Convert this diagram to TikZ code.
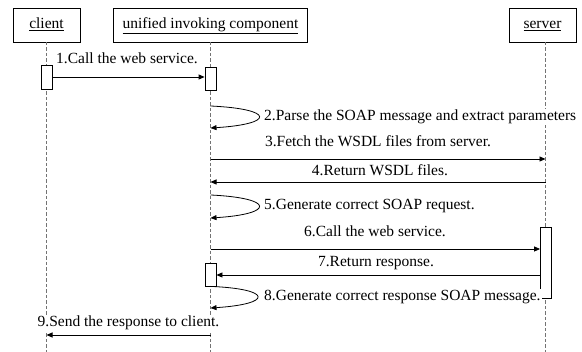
\documentclass[tikz,border=0pt]{standalone}
\usepackage{fontspec}
\setmainfont{Liberation Serif}
\usetikzlibrary{arrows.meta}
\begin{document}
\begin{tikzpicture}[x=1pt,y=-1pt,
  txt/.style={font=\fontsize{15.5}{18}\selectfont, text height=11pt, text depth=3.5pt},
  actor/.style={txt, draw, line width=0.8pt, minimum height=34pt, inner sep=0pt},
  life/.style={draw=black!55, line width=0.8pt, dash pattern=on 3.5pt off 2pt},
  act/.style={draw, fill=white, line width=0.8pt, minimum width=11pt, inner sep=0pt},
  msg/.style={line width=0.8pt, -{Triangle[length=6pt,width=5pt]}},
  lbl/.style={txt, fill=white, inner sep=1pt},
]
\useasboundingbox (0,0) rectangle (582,352);

% participants
\node[actor, minimum width=67pt]  (client)  at (46.5,25)  {\underline{client}};
\node[actor, minimum width=194pt] (unified) at (210.5,25) {\underline{unified invoking component}};
\node[actor, minimum width=67pt]  (server)  at (542.5,25) {\underline{server}};

% lifelines
\coordinate (cTop) at (46.5,42);   \coordinate (cBot) at (46.5,352);
\coordinate (uTop) at (210.5,42);  \coordinate (uBot) at (210.5,352);
\coordinate (sTop) at (545.5,42);  \coordinate (sBot) at (545.5,352);
\draw[life] (cTop) -- (cBot);
\draw[life] (uTop) -- (uBot);
\draw[life] (sTop) -- (sBot);

% activation bars
\node[act, minimum height=24pt] (a1) at (46.5,77)  {};
\node[act, minimum height=23pt] (a2) at (210.5,78.5) {};
\node[act, minimum height=71pt] (a3) at (546,262.5) {};
\node[act, minimum height=23pt] (a4) at (210.5,274.5) {};

% message end points on the lifelines
\coordinate (m2s) at (210.5,106); \coordinate (m2e) at (210.5,128);
\coordinate (m3s) at (210.5,159); \coordinate (m3e) at (545.5,159);
\coordinate (m4s) at (545.5,182); \coordinate (m4e) at (210.5,182);
\coordinate (m5s) at (210.5,195); \coordinate (m5e) at (210.5,218);
\coordinate (m6s) at (210.5,249);
\coordinate (m8e) at (210.5,308);
\coordinate (m9s) at (210.5,335); \coordinate (m9e) at (46.5,335);

% 1
\draw[msg] (a1.east |- 0,77) -- (a2.west |- 0,77);
\node[lbl] (l1) at (127,60) {1.Call the web service.};
% 2
\draw[msg] (m2s) .. controls (275,109) and (275,124) .. (m2e);
\node[lbl, anchor=west] (l2) at (263,117) {2.Parse the SOAP message and extract parameters};
% 3
\draw[msg] (m3s) -- (m3e);
\node[lbl] (l3) at (378,142.5) {3.Fetch the WSDL files from server.};
% 4
\draw[msg] (m4s) -- (m4e);
\node[lbl] (l4) at (380,172) {4.Return WSDL files.};
% 5
\draw[msg] (m5s) .. controls (275,198) and (275,214) .. (m5e);
\node[lbl, anchor=west] (l5) at (263,206) {5.Generate correct SOAP request.};
% 6
\draw[msg] (m6s) -- (a3.west |- m6s);
\node[lbl] (l6) at (375,233) {6.Call the web service.};
% 7
\draw[msg] (a3.west |- 0,275) -- (a4.east |- 0,275);
\node[lbl] (l7) at (376,263) {7.Return response.};
% 8
\draw[msg] (a4.south) .. controls (273,289) and (273,304) .. (m8e);
\node[lbl, anchor=west] (l8) at (263,297) {8.Generate correct response SOAP message.};
% 9
\draw[msg] (m9s) -- (m9e);
\node[lbl] (l9) at (128.5,323) {9.Send the response to client.};
\end{tikzpicture}
\end{document}
